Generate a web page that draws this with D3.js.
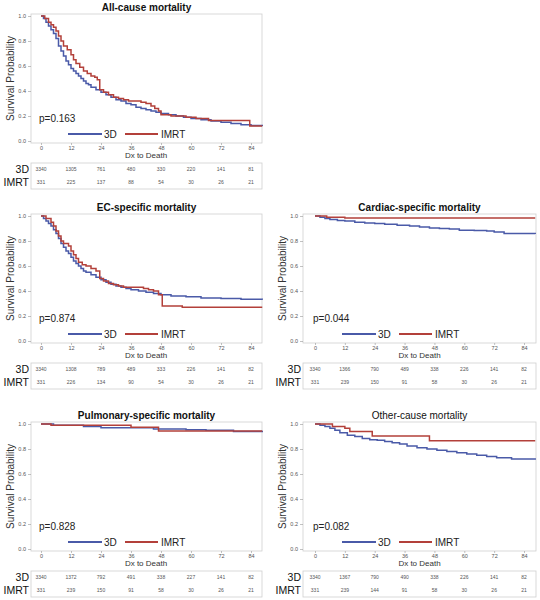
<!DOCTYPE html>
<html><head><meta charset="utf-8">
<script src="https://cdn.jsdelivr.net/npm/d3@7"></script>
<style>body{margin:0;background:#fff}svg{display:block;font-family:Arial,"Liberation Sans",sans-serif}</style>
</head><body><svg id="c" width="540" height="600"></svg>
<script>
// ---- data ----
const xTicks = [0, 12, 24, 36, 48, 60, 72, 84];
const yTicks = [0.0, 0.2, 0.4, 0.6, 0.8, 1.0];
const groups = ["3D", "IMRT"];

const allCause3D = [[0,1],[1,0.98],[2,0.95],[3,0.92],[4,0.89],[5,0.86],[6,0.82],[7,0.76],[8,0.72],[9,0.68],[10,0.64],[11,0.61],[12,0.58],[13,0.56],[14,0.54],[15,0.52],[16,0.50],[17,0.48],[18,0.46],[19,0.45],[20,0.43],[22,0.41],[24,0.39],[26,0.37],[28,0.35],[30,0.33],[32,0.32],[34,0.30],[36,0.29],[38,0.27],[40,0.26],[42,0.25],[44,0.24],[46,0.23],[48,0.22],[51,0.21],[54,0.20],[57,0.19],[60,0.18],[64,0.17],[68,0.16],[72,0.15],[76,0.14],[80,0.13],[84,0.125],[88.5,0.12]];
const allCauseIMRT = [[0,1],[1.5,0.98],[3,0.95],[4,0.93],[5,0.91],[6,0.88],[7,0.84],[8,0.80],[9,0.76],[10.5,0.73],[12,0.69],[13,0.65],[14,0.62],[15.5,0.59],[17,0.56],[18.5,0.54],[20,0.52],[21.5,0.51],[22.5,0.49],[23.5,0.41],[25,0.39],[27,0.37],[29,0.35],[31,0.34],[33,0.33],[35,0.32],[40,0.31],[42,0.30],[44,0.28],[45.5,0.26],[47,0.24],[48,0.21],[52,0.20],[58,0.19],[62,0.18],[67,0.165],[83.5,0.12],[88.5,0.12]];
const ec3D = [[0,1],[1,0.98],[2,0.96],[3,0.94],[4,0.92],[5,0.89],[6,0.86],[7,0.82],[8,0.78],[9,0.75],[10,0.72],[11,0.70],[12,0.67],[13,0.64],[14,0.62],[15,0.60],[16,0.58],[17,0.56],[18,0.55],[20,0.53],[22,0.51],[24,0.49],[26,0.47],[28,0.455],[30,0.44],[32,0.43],[34,0.42],[36,0.41],[39,0.40],[42,0.39],[45,0.38],[48,0.37],[52,0.36],[58,0.355],[64,0.345],[72,0.34],[80,0.335],[88.5,0.33]];
const ecIMRT = [[0,1],[2,0.98],[4,0.95],[5,0.92],[6,0.88],[7,0.84],[8,0.80],[9,0.78],[11,0.76],[12,0.72],[13,0.69],[14,0.66],[15,0.63],[16.5,0.61],[18,0.60],[20,0.58],[22,0.56],[23.5,0.50],[25,0.48],[27,0.46],[29,0.45],[31,0.44],[33,0.43],[41,0.42],[43,0.41],[45,0.40],[47,0.37],[48.5,0.28],[56.5,0.27],[88.5,0.27]];
const cardiac3D = [[0,1],[2,0.99],[4,0.98],[6,0.973],[9,0.965],[12,0.96],[16,0.95],[20,0.945],[24,0.94],[28,0.935],[33,0.927],[38,0.92],[42,0.912],[46,0.905],[50,0.9],[54,0.897],[58,0.886],[64,0.884],[69,0.88],[72,0.872],[76,0.86],[88.5,0.857]];
const cardiacIMRT = [[0,1],[4.7,0.99],[12,0.985],[88.5,0.985]];
const pulm3D = [[0,1],[5,0.99],[17,0.98],[24,0.97],[45,0.96],[58,0.955],[66,0.95],[77,0.94],[88.5,0.935]];
const pulmIMRT = [[0,1],[4,0.99],[36,0.975],[47,0.945],[88.5,0.945]];
const other3D = [[0,1],[2,0.99],[4,0.98],[6,0.967],[8,0.95],[10,0.93],[13,0.91],[16,0.9],[19,0.885],[22,0.875],[25,0.87],[28,0.86],[31,0.85],[34,0.84],[37,0.825],[41,0.81],[45,0.8],[49,0.79],[53,0.78],[57,0.77],[61,0.76],[65,0.75],[69,0.74],[73,0.73],[79,0.72],[88.5,0.715]];
const otherIMRT = [[0,1],[7,0.98],[12,0.967],[14,0.94],[23,0.904],[46,0.866],[88.5,0.866]];

const titles = ["All-cause mortality","EC-specific mortality","Cardiac-specific mortality","Pulmonary-specific mortality","Other-cause mortality"];
const titleWeights = ["bold","bold","bold","bold","normal"];
const pValues = ["p=0.163","p=0.874","p=0.044","p=0.828","p=0.082"];
const risk3D = [
  [3340,1305,761,480,330,220,141,81],
  [3340,1308,789,489,333,226,141,82],
  [3340,1366,790,489,338,226,141,82],
  [3340,1372,792,491,338,227,141,82],
  [3340,1367,790,490,338,226,141,82]];
const riskIMRT = [
  [331,225,137,88,54,30,26,21],
  [331,226,134,90,54,30,26,21],
  [331,239,150,91,58,30,26,21],
  [331,239,150,91,58,30,26,21],
  [331,239,144,91,58,30,26,21]];
const curves3D = [allCause3D, ec3D, cardiac3D, pulm3D, other3D];
const curvesIMRT = [allCauseIMRT, ecIMRT, cardiacIMRT, pulmIMRT, otherIMRT];

// ---- layout ----
const cols = [{pl:31, pr:262, x0:41, x84:251},{pl:303, pr:536, x0:315, x84:524}];
const rowTops = [0, 200, 408];
const slots = [[0,0],[1,0],[1,1],[2,0],[2,1]]; // [row,col]
const blue = "#4a5aa8", red = "#b3403a";

const svg = d3.select("#c");
svg.append("rect").attr("width",540).attr("height",600).attr("fill","#fff");

slots.forEach(([r,c], i) => {
  const col = cols[c], top = rowTops[r];
  const g = svg.append("g");
  const x = d3.scaleLinear().domain([0,84]).range([col.x0, col.x84]);
  const y = d3.scaleLinear().domain([0,1]).range([top+141, top+16]);
  const pt = top+14, pb = top+143;

  g.append("text").attr("x",(col.pl+col.pr)/2).attr("y",top+11).attr("text-anchor","middle")
    .attr("font-size",10).attr("font-weight",titleWeights[i]).attr("fill","#111").text(titles[i]);

  g.append("rect").attr("x",col.pl).attr("y",pt).attr("width",col.pr-col.pl).attr("height",pb-pt)
    .attr("fill","none").attr("stroke","#cfcfcf").attr("stroke-width",0.8);

  // y axis
  const ya = g.append("g").attr("transform",`translate(${col.pl},0)`)
    .call(d3.axisLeft(y).tickValues(yTicks).tickFormat(d3.format(".1f")).tickSize(3).tickPadding(2));
  ya.select(".domain").remove();
  ya.selectAll("line").attr("stroke","#999").attr("stroke-width",0.6);
  ya.selectAll("text").attr("font-size",5.5).attr("fill","#555").attr("font-family","Arial, Liberation Sans, sans-serif");

  // x axis
  const xa = g.append("g").attr("transform",`translate(0,${pb})`)
    .call(d3.axisBottom(x).tickValues(xTicks).tickSize(2).tickPadding(1.5));
  xa.select(".domain").remove();
  xa.selectAll("line").attr("stroke","#999").attr("stroke-width",0.6);
  xa.selectAll("text").attr("font-size",5.5).attr("fill","#555").attr("font-family","Arial, Liberation Sans, sans-serif");

  g.append("text").attr("x",(col.x0+col.x84)/2).attr("y",top+158).attr("text-anchor","middle")
    .attr("font-size",8).attr("fill","#333").text("Dx to Death");
  g.append("text").attr("transform",`translate(${col.pl-17},${(pt+pb)/2}) rotate(-90)`)
    .attr("text-anchor","middle").attr("font-size",10).attr("fill","#333").text("Survival Probability");

  // curves
  const line = d3.line().x(d=>x(d[0])).y(d=>y(d[1])).curve(d3.curveStepAfter);
  g.append("path").datum(curves3D[i]).attr("d",line).attr("fill","none").attr("stroke",blue).attr("stroke-width",1.5);
  g.append("path").datum(curvesIMRT[i]).attr("d",line).attr("fill","none").attr("stroke",red).attr("stroke-width",1.5);

  // p value
  g.append("text").attr("x",col.x0-2).attr("y",pb-21).attr("font-size",10).attr("fill","#222").text(pValues[i]);

  // legend
  const ly = pb-9;
  g.append("line").attr("x1",col.x0+27).attr("x2",col.x0+61).attr("y1",ly).attr("y2",ly).attr("stroke",blue).attr("stroke-width",2);
  g.append("text").attr("x",col.x0+63).attr("y",ly+3.5).attr("font-size",10).attr("fill","#222").text(groups[0]);
  g.append("line").attr("x1",col.x0+84).attr("x2",col.x0+117).attr("y1",ly).attr("y2",ly).attr("stroke",red).attr("stroke-width",2);
  g.append("text").attr("x",col.x0+120).attr("y",ly+3.5).attr("font-size",10).attr("fill","#222").text(groups[1]);

  // risk table
  g.append("rect").attr("x",col.pl).attr("y",top+163).attr("width",col.pr-col.pl).attr("height",26)
    .attr("fill","none").attr("stroke","#cfcfcf").attr("stroke-width",0.8);
  [risk3D[i], riskIMRT[i]].forEach((vals, k) => {
    const ry = top + (k===0 ? 172 : 185);
    g.append("text").attr("x",col.pl-2).attr("y",ry+1).attr("text-anchor","end").attr("font-size",10.5).attr("fill","#111").text(groups[k]);
    g.selectAll(null).data(vals).join("text")
      .attr("x",(d,j)=>x(xTicks[j])).attr("y",ry-1).attr("text-anchor","middle")
      .attr("font-size",5).attr("fill","#555").text(d=>d);
  });
});
</script></body></html>
